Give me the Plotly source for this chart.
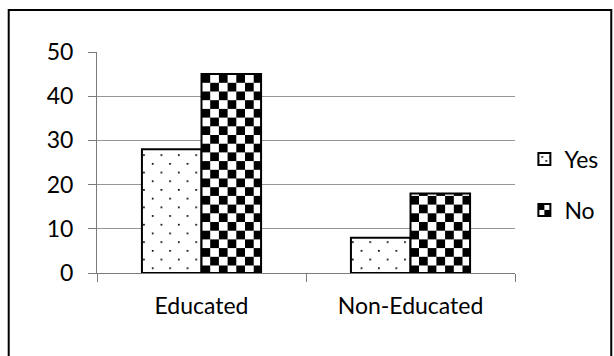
import plotly.graph_objects as go

# Survey counts by education level
categories = ["Educated", "Non-Educated"]
yes_counts = [28, 8]
no_counts = [45, 18]
y_ticks = [0, 10, 20, 30, 40, 50]

FONT = dict(family="Lato, 'Open Sans', sans-serif", size=23, color="#000000")

fig = go.Figure()
fig.add_trace(go.Bar(
    name="Yes", x=categories, y=yes_counts, legendgroup="yes",
    marker=dict(color="white", line=dict(color="black", width=2),
                pattern=dict(shape=".", fgcolor="black", bgcolor="white",
                             size=8, solidity=0.05)),
))
fig.add_trace(go.Bar(
    name="No", x=categories, y=no_counts, legendgroup="no",
    marker=dict(color="white", line=dict(color="black", width=2),
                pattern=dict(shape="+", fgcolor="black", bgcolor="white",
                             size=17, solidity=0.5)),
))

fig.update_layout(
    width=614, height=356,
    margin=dict(l=97, r=98, t=52, b=83),
    paper_bgcolor="white", plot_bgcolor="white",
    font=FONT,
    barmode="group", bargap=0.43, bargroupgap=0,
    showlegend=True,
    legend=dict(x=1.02, xanchor="left", y=0.4, yanchor="middle",
                traceorder="grouped", tracegroupgap=18,
                font=FONT, bgcolor="rgba(0,0,0,0)"),
    xaxis=dict(range=[-0.5, 1.5], showline=True, linecolor="#7a7a7a", linewidth=1,
               ticks="outside", tickson="boundaries", ticklen=8,
               tickcolor="#7a7a7a", showgrid=False, tickfont=FONT,
               ticklabelstandoff=12),
    yaxis=dict(range=[0, 50], tickvals=y_ticks, showline=True, linecolor="#7a7a7a",
               linewidth=1, ticks="outside", ticklen=8, tickcolor="#7a7a7a",
               showgrid=True, gridcolor="#969696", gridwidth=1, zeroline=False,
               tickfont=FONT, ticklabelstandoff=10),
    shapes=[dict(type="rect", xref="paper", yref="paper",
                 x0=-0.2112, x1=1.2303, y0=-0.394, y1=1.19,
                 line=dict(color="black", width=2), fillcolor="rgba(0,0,0,0)",
                 layer="above")],
)

# Swap the fills for a staggered dot grid (Yes) and a checkerboard (No)
post = r"""
var gd = document.getElementById('{plot_id}');
var NS = 'http://www.w3.org/2000/svg';
var defs = gd.querySelector('svg.main-svg defs');
function mk(tag, attrs){ var e = document.createElementNS(NS, tag);
  for (var k in attrs) e.setAttribute(k, attrs[k]); return e; }
function addPattern(id, cell, kind, ox, oy){
  var p = mk('pattern', {id: id, patternUnits: 'userSpaceOnUse',
            width: 2*cell, height: 2*cell, x: ox, y: oy});
  p.appendChild(mk('rect', {x: 0, y: 0, width: 2*cell, height: 2*cell, fill: 'white'}));
  if (kind === 'check') {
    p.appendChild(mk('rect', {x: 0, y: 0, width: cell, height: cell, fill: 'black'}));
    p.appendChild(mk('rect', {x: cell, y: cell, width: cell, height: cell, fill: 'black'}));
  } else {
    p.appendChild(mk('rect', {x: 0, y: 0, width: 1.7, height: 1.7, fill: 'black'}));
    p.appendChild(mk('rect', {x: cell, y: cell, width: 1.7, height: 1.7, fill: 'black'}));
  }
  defs.appendChild(p);
}
function setFill(el, id){ var u = 'url(#' + id + ')';
  el.setAttribute('fill', u); el.style.fill = u; }
var traces = gd.querySelectorAll('.barlayer .trace');
var cell = 8.7;
if (traces.length >= 2) {
  var yb = traces[0].querySelector('.point path').getBBox();
  var nb = traces[1].querySelector('.point path').getBBox();
  addPattern('dotsfill', cell, 'dots', yb.x + 1.2, yb.y + 5);
  addPattern('checkfill', cell, 'check', nb.x, nb.y);
  addPattern('dotsleg', 4, 'dots', -3, -3);
  addPattern('checkleg', 6, 'check', 0, 0);
  traces[0].querySelectorAll('.point path').forEach(function(p){ setFill(p, 'dotsfill'); });
  traces[1].querySelectorAll('.point path').forEach(function(p){ setFill(p, 'checkfill'); });
}
var leg = gd.querySelectorAll('.legend .traces');
if (leg.length >= 2) {
  leg[0].querySelectorAll('.legendpoints path').forEach(function(p){ setFill(p, 'dotsleg'); });
  leg[1].querySelectorAll('.legendpoints path').forEach(function(p){ setFill(p, 'checkleg'); });
}
"""

fig.write_html("out.html", post_script=post)
